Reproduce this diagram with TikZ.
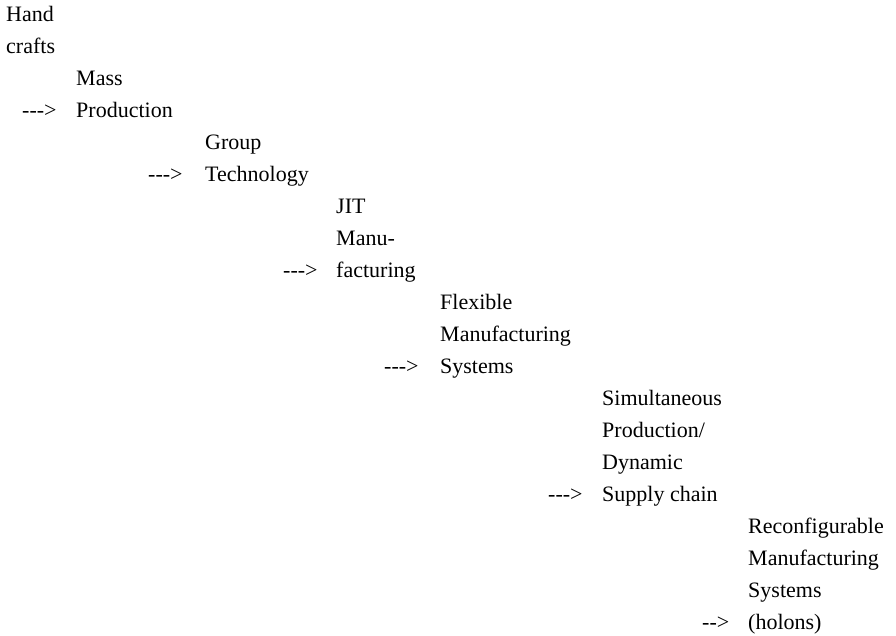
\documentclass[tikz,border=0pt]{standalone}
\usepackage{fontspec}
\setmainfont{Liberation Serif}
\tikzset{stage/.style = {inner sep = 0, anchor = base west, align = left,
                         font = \fontsize{22}{32}\selectfont}}
\tikzset{arr/.style = {inner sep = 0, anchor = base west,
                       font = \fontsize{22}{32}\selectfont}}
\newcommand\longarr{\mbox{-}\mbox{-}\mbox{-}>}
\newcommand\shortarr{\mbox{-}\mbox{-}>}

\begin{document}
\begin{tikzpicture}[x=1pt, y=-1pt]
    \useasboundingbox (0, 0) rectangle (896, 635);

    % base of a stage is its last line
    \node [stage] (hand) at (6, 53) {Hand\\crafts};
    \node [stage] (mass) at (76, 117) {Mass\\Production};
    \node [stage] (group) at (205, 181) {Group\\Technology};
    \node [stage] (jit) at (336, 277) {JIT\\Manu-\\facturing};
    \node [stage] (fms) at (440, 373) {Flexible\\Manufacturing\\Systems};
    \node [stage] (sim) at (602, 501) {Simultaneous\\Production/\\Dynamic\\Supply chain};
    \node [stage] (rms) at (748, 629) {Reconfigurable\\Manufacturing\\Systems\\(holons)};

    \node [arr] (to mass) at (22, 117) {\longarr};
    \node [arr] (to group) at (148, 181) {\longarr};
    \node [arr] (to jit) at (283, 277) {\longarr};
    \node [arr] (to fms) at (384, 373) {\longarr};
    \node [arr] (to sim) at (548, 501) {\longarr};
    \node [arr] (to rms) at (702, 629) {\shortarr};
  \end{tikzpicture}
\end{document}
